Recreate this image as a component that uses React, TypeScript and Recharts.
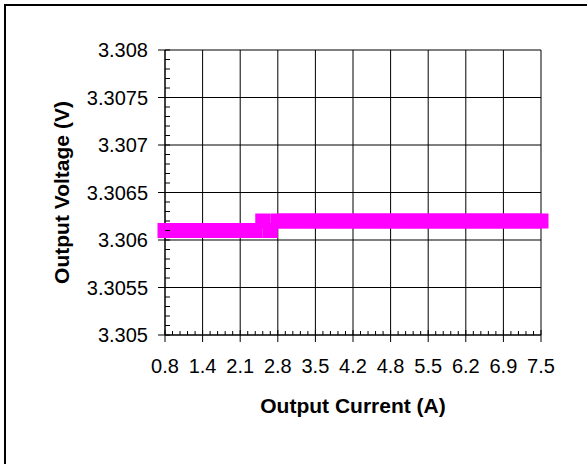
import React from 'react'
import { LineChart, Line, XAxis, YAxis, CartesianGrid, Label } from 'recharts'

// measured load currents (A), one per sample
const currents: number[] = [
  0.8, 0.9, 1.0, 1.1, 1.3, 1.4, 1.5, 1.7, 1.8, 1.9,
  2.1, 2.2, 2.3, 2.5, 2.6, 2.8, 2.9, 3.0, 3.2, 3.3,
  3.5, 3.6, 3.7, 3.9, 4.0, 4.2, 4.3, 4.4, 4.6, 4.7,
  4.8, 5.0, 5.1, 5.2, 5.4, 5.5, 5.6, 5.8, 5.9, 6.1,
  6.2, 6.3, 6.5, 6.6, 6.7, 6.9, 7.0, 7.1, 7.3, 7.4,
  7.5,
]

// output voltage (V) at each current
const voltages: number[] = [
  3.3061, 3.3061, 3.3061, 3.3061, 3.3061, 3.3061, 3.3061, 3.3061, 3.3061, 3.3061,
  3.3061, 3.3061, 3.3061, 3.3062, 3.3061, 3.3062, 3.3062, 3.3062, 3.3062, 3.3062,
  3.3062, 3.3062, 3.3062, 3.3062, 3.3062, 3.3062, 3.3062, 3.3062, 3.3062, 3.3062,
  3.3062, 3.3062, 3.3062, 3.3062, 3.3062, 3.3062, 3.3062, 3.3062, 3.3062, 3.3062,
  3.3062, 3.3062, 3.3062, 3.3062, 3.3062, 3.3062, 3.3062, 3.3062, 3.3062, 3.3062,
  3.3062,
]

const yMajorTicks = [3.305, 3.3055, 3.306, 3.3065, 3.307, 3.3075, 3.308]
const yTickLabels = ['3.305', '3.3055', '3.306', '3.3065', '3.307', '3.3075', '3.308']
const Y_MIN = 3.305
const Y_STEP = 0.0001
const LABEL_EVERY = 5

const data = currents.map((c, i) => ({ i, current: c, v: voltages[i] }))
const xTicks = currents.map((_, i) => i)
const xMajorTicks = xTicks.filter((i) => i % LABEL_EVERY === 0)
const yTicks: number[] = []
for (let k = 0; k <= 30; k++) yTicks.push(+(Y_MIN + k * Y_STEP).toFixed(4))

const FONT = '"Liberation Sans", Arial, sans-serif'
const MAGENTA = '#FF00FF'

function XTick(props: any) {
  const { x, y, payload } = props
  const i = payload.value
  if (i % LABEL_EVERY !== 0) {
    return <line x1={x} x2={x} y1={y - 4} y2={y} stroke="#000" />
  }
  return (
    <g>
      <line x1={x} x2={x} y1={y - 5} y2={y + 7} stroke="#000" />
      <text x={x} y={y + 38} textAnchor="middle" fontFamily={FONT} fontSize={20} fill="#000">
        {currents[i].toFixed(1)}
      </text>
    </g>
  )
}

function YTick(props: any) {
  const { x, y, payload } = props
  const k = Math.round((payload.value - Y_MIN) / Y_STEP)
  if (k % LABEL_EVERY !== 0) {
    return <line x1={x} x2={x + 5} y1={y} y2={y} stroke="#000" />
  }
  return (
    <g>
      <line x1={x - 7} x2={x + 5} y1={y} y2={y} stroke="#000" />
      <text x={x - 17} y={y} dy="0.36em" textAnchor="end" fontFamily={FONT} fontSize={20} fill="#000">
        {yTickLabels[k / LABEL_EVERY]}
      </text>
    </g>
  )
}

function SquareDot(props: any) {
  const { cx, cy, index } = props
  return <rect key={index} x={cx - 7.5} y={cy - 7.5} width={15} height={15} fill={MAGENTA} />
}

export default function App(): JSX.Element {
  return (
    <div style={{ position: 'absolute', left: 0, top: 0, width: 587, height: 464, overflow: 'hidden', background: '#fff' }}>
      <div style={{ position: 'absolute', left: 4, top: 4, width: 700, height: 600, border: '2px solid #000' }} />
      <div style={{ position: 'absolute', left: 0, top: 0 }}>
        <LineChart width={587} height={464} data={data} margin={{ top: 50, right: 46, bottom: 0, left: 0 }}>
          <CartesianGrid stroke="#000" horizontalValues={yMajorTicks} verticalValues={xMajorTicks} />
          <XAxis
            type="number"
            dataKey="i"
            domain={[0, 50]}
            ticks={xTicks}
            interval={0}
            height={129}
            tickSize={0}
            tickMargin={0}
            tickLine={false}
            tick={<XTick />}
            axisLine={{ stroke: '#000' }}
          >
            <Label
              position="insideBottom"
              content={({ viewBox }: any) => (
                <text
                  x={viewBox.x + viewBox.width / 2}
                  y={viewBox.y + 78}
                  textAnchor="middle"
                  fontFamily={FONT}
                  fontWeight="bold"
                  fontSize={21}
                  fill="#000"
                >
                  Output Current (A)
                </text>
              )}
            />
          </XAxis>
          <YAxis
            type="number"
            domain={[Y_MIN, 3.308]}
            ticks={yTicks}
            interval={0}
            width={165}
            tickSize={0}
            tickMargin={0}
            tickLine={false}
            tick={<YTick />}
            axisLine={{ stroke: '#000' }}
            allowDataOverflow
          >
            <Label
              position="insideLeft"
              content={({ viewBox }: any) => {
                const cx = 69
                const cy = viewBox.y + viewBox.height / 2
                return (
                  <text
                    x={cx}
                    y={cy}
                    transform={`rotate(-90 ${cx} ${cy})`}
                    textAnchor="middle"
                    fontFamily={FONT}
                    fontWeight="bold"
                    fontSize={21}
                    fill="#000"
                  >
                    Output Voltage (V)
                  </text>
                )
              }}
            />
          </YAxis>
          <Line
            type="linear"
            dataKey="v"
            stroke={MAGENTA}
            strokeWidth={2}
            dot={SquareDot}
            activeDot={false}
            isAnimationActive={false}
          />
        </LineChart>
      </div>
    </div>
  )
}
